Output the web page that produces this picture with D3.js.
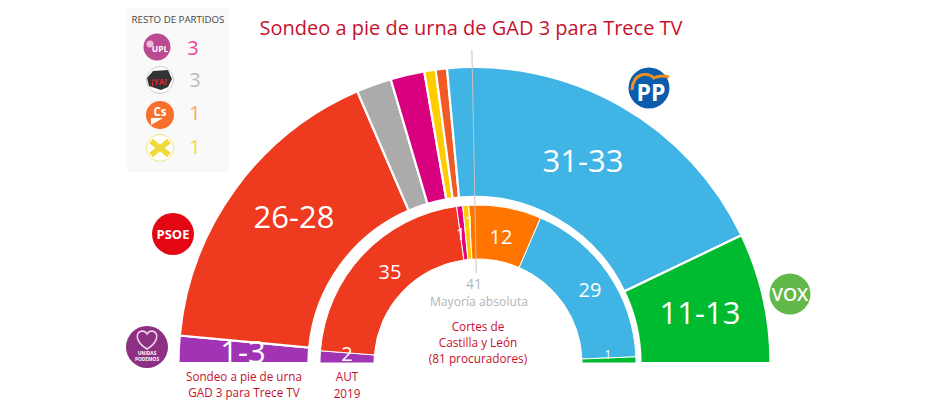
<!DOCTYPE html>
<html>
<head>
<meta charset="utf-8">
<script src="https://cdn.jsdelivr.net/npm/d3@7"></script>
<style>
html, body { margin: 0; padding: 0; background: #fff; }
svg { display: block; }
text { font-family: "Open Sans", "Noto Sans", sans-serif; }
</style>
</head>
<body>
<svg id="chart" width="940" height="411"></svg>
<script>
// outer ring: poll, widths (seat midpoints)
var pollParties = ["UP", "PSOE", "YA", "UPL", "XB", "Cs", "PP", "VOX"];
var pollSeats = [2.4, 27.6, 3.1, 3, 1, 1, 31.4, 11.5];
var pollLabels = ["1-3", "26-28", "", "", "", "", "31-33", "11-13"];

// inner ring: 2019 result
var autParties = ["UP", "PSOE", "UPL", "XB", "Cs", "PP", "VOX"];
var autSeats = [2, 35, 1, 1, 12, 29, 1];

var restParties = ["UPL", "YA", "Cs", "XB"];
var restSeats = [3, 3, 1, 1];

var majority = 41;
var totalSeats = 81;

var pollColors = {
    UP: "#a034b5", PSOE: "#ee3a1f", YA: "#ababab", UPL: "#d9007f",
    XB: "#ffcc00", Cs: "#f15a24", PP: "#3fb4e5", VOX: "#00bb2f"
};
var autColors = {
    UP: "#a034b5", PSOE: "#ee3a1f", UPL: "#e5007e",
    XB: "#ffcc00", Cs: "#ff7500", PP: "#3fb4e5", VOX: "#00bb2f"
};
var restColors = { UPL: "#f03ea0", YA: "#bbbbbb", Cs: "#f9a45a", XB: "#f5d842" };

var red = "#c8102e";
var svg = d3.select("#chart");
var halfPie = d3.pie().sort(null).startAngle(-Math.PI / 2).endAngle(Math.PI / 2);

function ring(cx, cy, r0, r1, parties, seats, colors, stroke) {
    var arc = d3.arc().innerRadius(r0).outerRadius(r1);
    svg.append("g")
        .attr("transform", "translate(" + cx + "," + cy + ")")
        .selectAll("path")
        .data(halfPie(seats))
        .join("path")
        .attr("d", arc)
        .attr("fill", function(d, i){ return colors[parties[i]]; })
        .attr("stroke", "#fff")
        .attr("stroke-width", stroke);
}

function label(x, y, txt, size, color, weight) {
    return svg.append("text")
        .attr("x", x).attr("y", y)
        .attr("text-anchor", "middle")
        .attr("font-size", size)
        .attr("font-weight", weight || 400)
        .attr("fill", color)
        .text(txt);
}

ring(474.5, 363, 166, 296, pollParties, pollSeats, pollColors, 2.2);
ring(478, 363, 104, 158, autParties, autSeats, autColors, 1);

// majority line, placed with the same angle scale as the rings
var seatAngle = d3.scaleLinear().domain([0, totalSeats]).range([-Math.PI / 2, Math.PI / 2]);
var a = seatAngle(majority - 1);
svg.append("line")
    .attr("x1", 478 + 313 * Math.sin(a)).attr("y1", 363 - 313 * Math.cos(a))
    .attr("x2", 478 + 90 * Math.sin(a)).attr("y2", 363 - 90 * Math.cos(a))
    .attr("stroke", "#c4c4c4").attr("stroke-width", 1);

label(474, 289, majority, 14, "#b5b5b5");
label(479, 306, "Mayoría absoluta", 12.2, "#b5b5b5");

// ring labels
var pollLabelPos = [[243, 363], [294, 228], null, null, null, null, [583, 172], [700, 324]];
pollLabels.forEach(function(t, i){
    if (pollLabelPos[i]) label(pollLabelPos[i][0], pollLabelPos[i][1], t, 31, "#fff");
});
label(390, 279, 35, 20, "#fff");
label(501, 244, 12, 20, "#fff");
label(590, 297, 29, 20, "#fff");
label(347, 361, 2, 20, "#fff");
label(460.5, 240, 1, 16, "#fff");
label(469.5, 228, 1, 16, "#fff");
label(608, 359, 1, 12, "#fff");

// texts
label(471, 35, "Sondeo a pie de urna de GAD 3 para Trece TV", 20, red);
label(244, 381, "Sondeo a pie de urna", 11.7, red);
label(244, 397, "GAD 3 para Trece TV", 11.7, red);
label(347, 381, "AUT", 11.7, red);
label(347, 398, "2019", 11.7, red);
label(478, 331, "Cortes de", 11.8, red);
label(478, 347, "Castilla y León", 11.8, red);
label(478, 363, "(81 procuradores)", 11.8, red);

// side panel
svg.append("rect").attr("x", 127).attr("y", 8).attr("width", 102).attr("height", 164).attr("fill", "#f9f9f9");
label(178, 23, "RESTO DE PARTIDOS", 9.7, "#444");

var restY = [55, 87, 120, 154];
var restX = [193, 195, 195, 195];
restParties.forEach(function(p, i){
    label(restX[i], restY[i], restSeats[i], 20, restColors[p]);
});

function badge(x, y, r, fill, stroke) {
    svg.append("circle").attr("cx", x).attr("cy", y).attr("r", r)
        .attr("fill", fill).attr("stroke", stroke || "none");
}

// UPL
badge(157, 47, 13.5, "#bb4a92");
label(160, 52, "UPL", 8.5, "#fff", 700);
svg.append("circle").attr("cx", 150).attr("cy", 44).attr("r", 3.5).attr("fill", "#e9bcd9");
// ¡YA!
badge(160, 80, 13.5, "#fff", "#ccc");
svg.append("path").attr("d", "M147 78 L153 71 L168 70 L172 79 L168 87 L161 90 L149 86 Z").attr("fill", "#333");
label(159, 85, "¡YA!", 8.5, "#e5262d", 700);
// Cs
badge(160, 115, 14, "#f96f2e");
label(160, 116, "Cs", 11.5, "#fff", 700);
svg.append("path").attr("d", "M151 118 L163 118 L151 125 Z").attr("fill", "#fff");
// Por Burgos
badge(160, 148, 13.5, "#fff", "#f5e27a");
svg.append("path").attr("d", "M151 141 L169 155 M169 141 L151 155")
    .attr("stroke", "#f0d93a").attr("stroke-width", 5.5);

// party logos
badge(649, 88, 20.5, "#0b5cab");
svg.append("path").attr("d", "M632 90 C633 72 648 72 654 78 C660 75 665 76 669 77")
    .attr("fill", "none").attr("stroke", "#f0901e").attr("stroke-width", 3);
label(651, 101, "PP", 23, "#fff", 700);

badge(173, 234, 21, "#e30613");
label(173, 239, "PSOE", 13, "#fff", 700);

badge(790, 294, 20.5, "#63b84a");
label(790, 301, "VOX", 18, "#fff", 600);

badge(147, 347, 21, "#8d2f82");
svg.append("path")
    .attr("d", "M147 349 C135 342 135 332 142 331 C144 331 146 332 147 334 C148 332 150 331 152 331 C159 332 159 342 147 349 Z")
    .attr("fill", "none").attr("stroke", "#f2d9ee").attr("stroke-width", 1.5);
label(147, 355, "UNIDAS", 4.8, "#fff", 700);
label(147, 361, "PODEMOS", 4.8, "#fff", 700);
</script>
</body>
</html>
